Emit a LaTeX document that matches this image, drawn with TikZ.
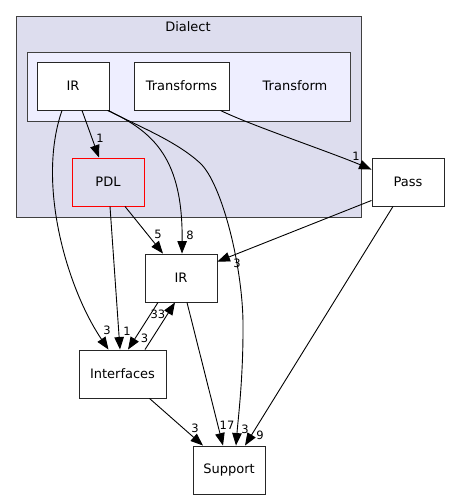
\documentclass[tikz,border=0pt]{standalone}
\usepackage{fontspec}
\setmainfont{DejaVu Sans}
\usetikzlibrary{arrows.meta}
\definecolor{clusterA}{HTML}{DDDDEE}
\definecolor{clusterB}{HTML}{EEEEFF}
\definecolor{clborder}{HTML}{404040}
\begin{document}
\begin{tikzpicture}[x=1pt,y=-1pt,
  dirbox/.style={draw=black!85,fill=white,line width=0.9pt,minimum width=72pt,minimum height=48pt,inner sep=0pt,font=\fontsize{13}{15}\selectfont},
  cluster/.style={draw=clborder,line width=0.9pt},
  dep/.style={draw=black,line width=0.9pt,-{Triangle[length=12.5pt,width=9.5pt]}},
  elabel/.style={font=\fontsize{11.5}{13}\selectfont,inner sep=0pt},
  cllabel/.style={font=\fontsize{13}{15}\selectfont,inner sep=0pt}]
\useasboundingbox (0,0) rectangle (449,500);
% clusters
\draw[cluster,fill=clusterA] (16,16) rectangle (361,217);
\node[cllabel] (dialectlbl) at (188,27) {Dialect};
\draw[cluster,fill=clusterB] (27,52) rectangle (350,121);
\node[cllabel] (transformlbl) at (295,86) {Transform};
% nodes
\node[dirbox] (irA) at (73,86) {IR};
\node[dirbox,minimum width=95pt] (transforms) at (181.5,86) {Transforms};
\node[dirbox,draw=red,fill=clusterA] (pdl) at (108,182) {PDL};
\node[dirbox] (pass) at (408,182) {Pass};
\node[dirbox] (irB) at (181,278) {IR};
\node[dirbox,minimum width=87pt] (interfaces) at (122.5,374) {Interfaces};
\node[dirbox] (support) at (229,470) {Support};
% edges
\draw[dep] ([xshift=9pt]irA.south) -- ([xshift=-9pt]pdl.north);
\draw[dep] ([xshift=-2pt]irA.south east) .. controls (155,132) and (183,160) .. ([xshift=1pt]irB.north);
\draw[dep] ([xshift=-1pt]irA.south east) .. controls (135,125) and (175,140) .. (200,163)
   .. controls (222,183) and (244,270) .. (243,330)
   .. controls (243,380) and (238,420) .. ([xshift=7pt]support.north);
\draw[dep] ([xshift=-11pt]irA.south) .. controls (36,185) and (68,290) .. ([xshift=-14pt]interfaces.north);
\draw[dep] ([xshift=-9pt]transforms.south east) .. controls (250,125) and (330,152) .. ([yshift=-12pt]pass.north west);
\draw[dep] ([xshift=17pt]pdl.south) -- ([xshift=-18pt]irB.north);
\draw[dep] ([xshift=2pt]pdl.south) -- ([xshift=-2.5pt]interfaces.north);
\draw[dep] ([yshift=6pt]pass.south west) -- ([yshift=-8pt]irB.north east);
\draw[dep] ([xshift=-15pt]pass.south) -- ([xshift=16pt]support.north);
\draw[dep] ([xshift=-23pt]irB.south) -- ([xshift=5.5pt]interfaces.north);
\draw[dep] ([xshift=22.5pt]interfaces.north) -- ([xshift=-6pt]irB.south);
\draw[dep] ([xshift=6pt]irB.south) -- ([xshift=-6pt]support.north);
\draw[dep] ([xshift=27pt]interfaces.south) -- ([xshift=-26pt]support.north);
% labels
\node[elabel] (l1) at (100,138) {1};
\node[elabel] (l2) at (190,235) {8};
\node[elabel] (l3) at (245,429) {3};
\node[elabel] (l4) at (107,330) {3};
\node[elabel] (l5) at (356,156) {1};
\node[elabel] (l6) at (158,234) {5};
\node[elabel] (l7) at (127,331) {1};
\node[elabel] (l8) at (237,263) {3};
\node[elabel] (l9) at (260,435) {9};
\node[elabel] (l10) at (144.5,338) {3};
\node[elabel] (l11) at (158,314) {33};
\node[elabel] (l12) at (227,425) {17};
\node[elabel] (l13) at (195,428) {3};
\end{tikzpicture}
\end{document}
